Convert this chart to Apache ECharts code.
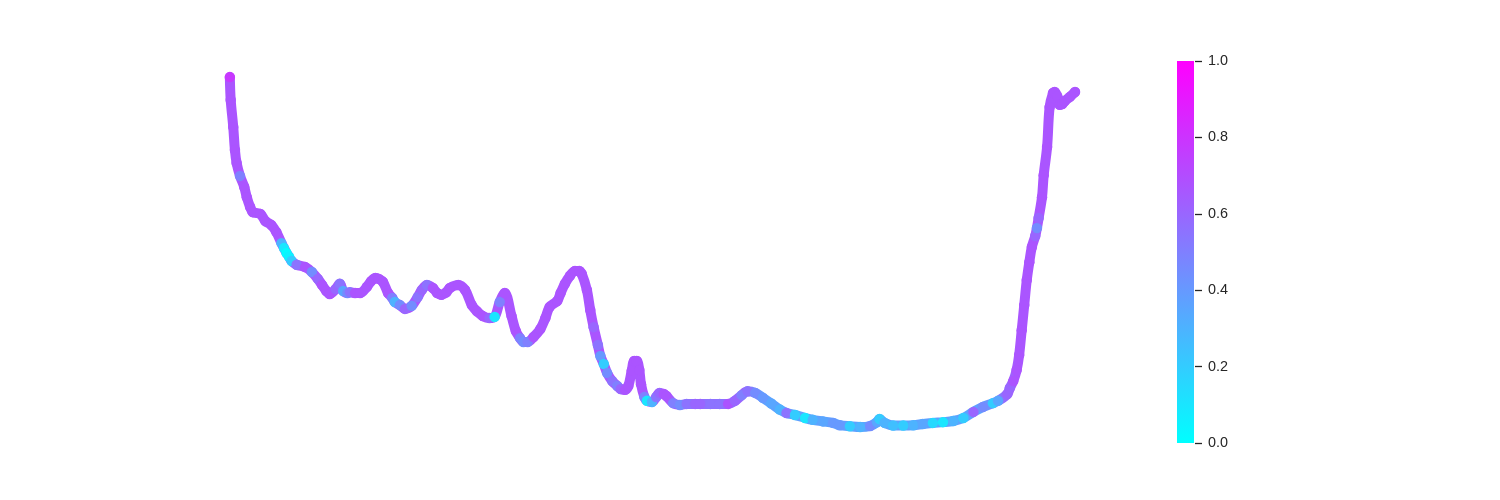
<!DOCTYPE html>
<html>
<head>
<meta charset="utf-8">
<script src="https://cdn.jsdelivr.net/npm/echarts@6/dist/echarts.min.js"></script>
<style>html,body{margin:0;padding:0;background:#fff;}#c{width:1500px;height:500px;}</style>
</head>
<body>
<div id="c"></div>
<script>
// sample index along the curve
const xIdx = [1,2,5,7,9,13,18,21,25,28,37,43,50,56,62,65,68,71,74,80,90,98,105,110,115,119,126,131,135,140,143,149,155,163,168,173,177,182,188,193,196,202,208,216,223,228,234,241,246,251,257,261,271,279,287,293,300,308,314,320,326,334,339,344,348,353,360,368,374,379,388,392,397,403,409,414,417,423,427,431,436,439,443,447,453,459,463,468,472,476,479,482,485,487,491,494,500,505,509,514,517,525,533,541,551,557,569,580,590,598,606,613,622,631,641,651,659,669,681,690,702,714,722,734,746,758,766,769,775,785,797,809,820,832,844,856,868,880,891,903,909,920,923,927,931,934,937,940,943,946,949,953,955,957,961,963,967,970,974,976,979,982,985,988,994,1000];
// curve value
const yVal = [0.955,0.895,0.824,0.763,0.729,0.695,0.666,0.639,0.613,0.600,0.595,0.576,0.566,0.547,0.518,0.505,0.492,0.482,0.471,0.461,0.455,0.442,0.424,0.408,0.392,0.384,0.397,0.411,0.392,0.387,0.389,0.387,0.387,0.403,0.418,0.426,0.424,0.416,0.387,0.374,0.363,0.355,0.345,0.353,0.376,0.395,0.408,0.400,0.387,0.382,0.389,0.400,0.408,0.395,0.355,0.339,0.326,0.321,0.324,0.363,0.387,0.326,0.287,0.268,0.258,0.258,0.271,0.292,0.321,0.350,0.366,0.387,0.411,0.432,0.445,0.445,0.437,0.395,0.342,0.297,0.250,0.221,0.200,0.176,0.155,0.142,0.134,0.132,0.142,0.182,0.208,0.208,0.184,0.147,0.113,0.103,0.100,0.113,0.124,0.121,0.116,0.097,0.092,0.095,0.095,0.095,0.095,0.095,0.095,0.103,0.118,0.128,0.124,0.111,0.096,0.080,0.071,0.066,0.058,0.053,0.049,0.045,0.039,0.036,0.034,0.037,0.047,0.055,0.045,0.038,0.038,0.039,0.042,0.045,0.047,0.050,0.058,0.074,0.087,0.097,0.103,0.121,0.137,0.155,0.184,0.224,0.289,0.355,0.421,0.468,0.508,0.537,0.558,0.584,0.639,0.697,0.771,0.876,0.913,0.916,0.905,0.882,0.884,0.892,0.903,0.916];
// colour value of each point
const cVal = [0.78,0.67,0.67,0.67,0.67,0.5,0.67,0.67,0.67,0.67,0.67,0.67,0.67,0.67,0.3,0.1,0.02,0.05,0.2,0.55,0.67,0.45,0.6,0.67,0.67,0.67,0.6,0.55,0.35,0.45,0.55,0.67,0.67,0.67,0.67,0.67,0.67,0.67,0.67,0.5,0.3,0.45,0.6,0.45,0.55,0.6,0.55,0.67,0.67,0.67,0.67,0.67,0.67,0.67,0.67,0.67,0.67,0.6,0.1,0.5,0.67,0.67,0.67,0.5,0.45,0.5,0.67,0.67,0.67,0.67,0.67,0.67,0.67,0.67,0.67,0.67,0.67,0.67,0.67,0.6,0.55,0.4,0.2,0.45,0.55,0.5,0.6,0.67,0.67,0.67,0.67,0.67,0.67,0.67,0.5,0.1,0.3,0.55,0.6,0.67,0.67,0.5,0.45,0.55,0.6,0.6,0.55,0.55,0.67,0.6,0.5,0.55,0.45,0.4,0.35,0.3,0.55,0.2,0.1,0.3,0.35,0.4,0.4,0.2,0.3,0.45,0.35,0.2,0.3,0.25,0.2,0.3,0.35,0.15,0.1,0.3,0.2,0.6,0.45,0.2,0.35,0.6,0.6,0.67,0.67,0.67,0.67,0.67,0.67,0.67,0.67,0.6,0.45,0.6,0.67,0.67,0.67,0.67,0.67,0.67,0.67,0.67,0.67,0.67,0.67,0.67];
// colour-bar range and tick labels
const cbRange = [0, 1];
const cbTicks = [0.0,0.2,0.4,0.6,0.8,1.0];

const lineData = xIdx.map((x,i)=>[x,yVal[i]]);
const ptData = xIdx.map((x,i)=>[x,yVal[i],cVal[i]]);
const txt = '#262626';
const cmapLo = '#00ffff', cmapHi = '#ff00ff';
const purple = '#aa55ff';
// underlying stroke tint (style only): purple, bluish in the low, mostly-cyan stretch
const strokeTint = new echarts.graphic.LinearGradient(0,0,1,0,[
  {offset:0, color:purple},{offset:0.52, color:purple},
  {offset:0.535, color:'#8f70ff'},{offset:0.59, color:'#8f70ff'},
  {offset:0.605, color:'#9c63ff'},{offset:0.63, color:'#5ea1ff'},
  {offset:0.885, color:'#5ea1ff'},{offset:0.925, color:purple},{offset:1, color:purple}
]);
const chart = echarts.init(document.getElementById('c'), null, {renderer:'canvas'});
chart.setOption({
  backgroundColor:'#ffffff',
  animation:false,
  grid:[
    {left:229, top:60, width:846, height:380},
    {left:1176, top:61, width:19, height:382}
  ],
  xAxis:[
    {gridIndex:0, type:'value', min:0, max:1000, show:false},
    {gridIndex:1, type:'category', data:['cb'], show:false}
  ],
  yAxis:[
    {gridIndex:0, type:'value', min:0, max:1, show:false},
    {gridIndex:1, type:'value', min:cbRange[0], max:cbRange[1], interval:0.2, position:'right',
     axisLine:{show:true, lineStyle:{color:'rgba(0,0,0,0)', width:0}}, splitLine:{show:false},
     axisTick:{show:true, inside:false, length:7, lineStyle:{color:txt, width:1.3}},
     axisLabel:{show:true, margin:13, color:txt, fontSize:14.4, fontFamily:'Liberation Sans, Arial, sans-serif',
       formatter:v=>{const t=cbTicks.find(k=>Math.abs(k-v)<1e-6);return t===undefined?'':t.toFixed(1);}}}
  ],
  visualMap:{
    type:'continuous', show:false, min:cbRange[0], max:cbRange[1], dimension:2, seriesIndex:1,
    inRange:{color:[cmapLo, cmapHi]}
  },
  series:[
    {type:'line', xAxisIndex:0, yAxisIndex:0, data:lineData, smooth:0.35, showSymbol:false,
     lineStyle:{color:strokeTint, width:10, cap:'round', join:'round'}, z:2, silent:true},
    {type:'scatter', xAxisIndex:0, yAxisIndex:0, data:ptData, symbolSize:10.5, z:3,
     itemStyle:{opacity:1}, silent:true},
    {type:'bar', xAxisIndex:1, yAxisIndex:1, data:[cbRange[1]], barWidth:17, silent:true,
     itemStyle:{color:new echarts.graphic.LinearGradient(0,1,0,0,[{offset:0,color:cmapLo},{offset:1,color:cmapHi}])}}
  ]
});
</script>
</body>
</html>
